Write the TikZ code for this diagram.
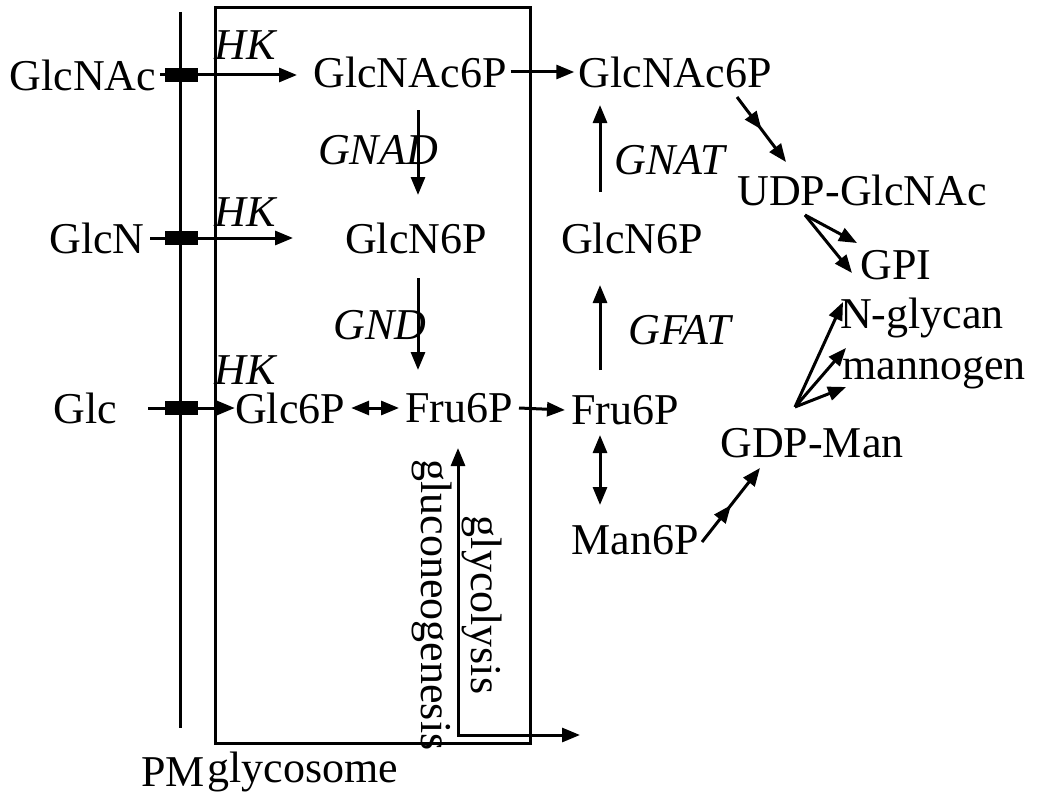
\documentclass[tikz,border=0pt]{standalone}
\usepackage{fontspec}
\setmainfont{Liberation Serif}
\usetikzlibrary{arrows.meta,decorations.markings}
\begin{document}
\begin{tikzpicture}[x=1pt,y=-1pt,
  every node/.style={font=\fontsize{44}{48}\selectfont, inner sep=0pt},
  lab/.style={font=\fontsize{44}{48}\selectfont\itshape},
  ar/.style={line width=3pt,-{Triangle[length=18pt,width=14pt]}},
  dar/.style={line width=3pt,{Triangle[length=18pt,width=14pt]}-{Triangle[length=18pt,width=14pt]}},
  mid/.style={postaction={decorate},decoration={markings,mark=at position 0.5 with {\arrow{Triangle[length=18pt,width=14pt]}}}},
  rec/.style={fill=black,minimum width=33pt,minimum height=14pt}]
\useasboundingbox (0,0) rectangle (1047,800);
\draw[line width=3pt] (180,12) -- (180,728);
\draw[line width=3pt] (215,8) rectangle (530,743);
\node[rec] (r1) at (181,75) {};
\node[rec] (r2) at (181,238) {};
\node[rec] (r3) at (181,408) {};
\node (glcnac) at (83,75) {GlcNAc};
\node (glcn) at (97,238) {GlcN};
\node (glc) at (85,408) {Glc};
\node (gnac6) at (410,72) {GlcNAc6P};
\node (gn6) at (416,238) {GlcN6P};
\node (g6) at (290,408) {Glc6P};
\node (f6) at (459,408) {Fru6P};
\node (gnac6b) at (675,72) {GlcNAc6P};
\node (gn6b) at (632,238) {GlcN6P};
\node (f6b) at (625,410) {Fru6P};
\node (m6) at (635,540) {Man6P};
\node (udp) at (862,190) {UDP-GlcNAc};
\node (gpi) at (896,265) {GPI};
\node (ngly) at (922,318) {N-glycan};
\node (mann) at (934,373) {mannogen};
\node (gdp) at (812,443) {GDP-Man};
\node (pm) at (173,772) {PM};
\node (gly) at (303,772) {glycosome};
\node[lab] (hk1) at (245,45) {HK};
\node[lab] (hk2) at (245,212) {HK};
\node[lab] (hk3) at (245,370) {HK};
\node[lab] (gnad) at (378,150) {GNAD};
\node[lab] (gnd) at (380,325) {GND};
\node[lab] (gnat) at (670,160) {GNAT};
\node[lab] (gfat) at (680,330) {GFAT};
\node[rotate=-90] (glyc) at (482,605) {glycolysis};
\node[rotate=-90] (glucon) at (432,605) {gluconeogenesis};
\coordinate (c1) at (160,75); \coordinate (c1e) at (297,75);
\coordinate (c2) at (150,238); \coordinate (c2e) at (293,238);
\coordinate (c3) at (148,408);
\draw[ar] (c1) -- (c1e);
\draw[ar] (c2) -- (c2e);
\draw[ar] (c3) -- (g6.west);
\draw[ar] ([xshift=4pt]gnac6.east) -- ([xshift=-4pt]gnac6b.west);
\draw[ar] (418,110) -- (418,195);
\draw[ar] (418,278) -- (418,370);
\draw[dar] ([xshift=6pt]g6.east) -- ([xshift=-6pt]f6.west);
\draw[ar] ([xshift=6pt]f6.east) -- ([xshift=-6pt]f6b.west);
\draw[ar] (600,192) -- (600,105);
\draw[ar] (600,370) -- (600,285);
\draw[dar] (600,435) -- (600,505);
\draw[line width=3pt,{Triangle[length=18pt,width=14pt]}-{Triangle[length=18pt,width=14pt]}] (458,448) -- (458,735) -- (580,735);
\draw[ar,mid] (737,97) -- (786,162);
\draw[ar] (805,215) -- (857,243);
\draw[ar] (805,215) -- (852,273);
\draw[ar] (795,407) -- (843,302);
\draw[ar] (795,407) -- (846,348);
\draw[ar] (795,407) -- (846,387);
\draw[ar,mid] (702,542) -- (760,468);
\end{tikzpicture}
\end{document}
